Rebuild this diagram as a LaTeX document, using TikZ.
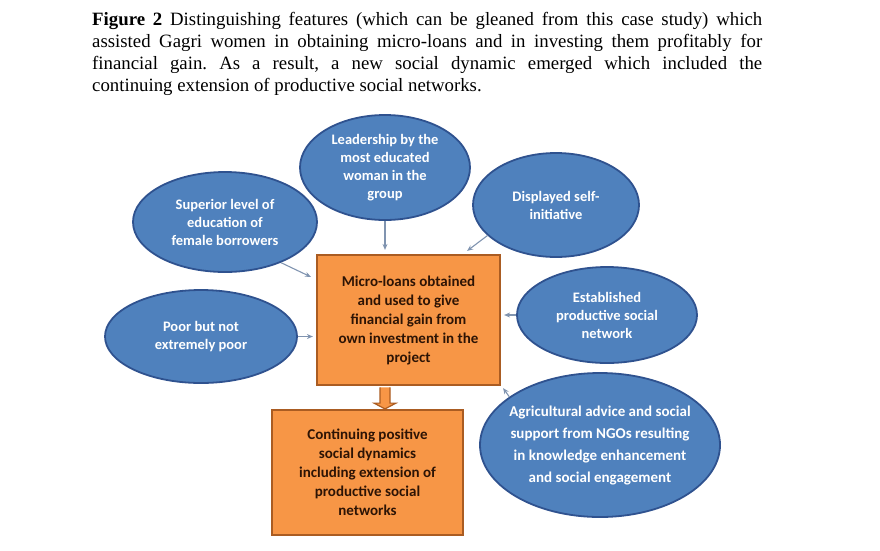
\documentclass[tikz,border=0pt]{standalone}
\usepackage{fontspec}
\setmainfont{Liberation Serif}
\newfontfamily\calibri{Carlito}
\usetikzlibrary{arrows.meta,calc,shapes.geometric}
\definecolor{bubfill}{RGB}{79,129,189}
\definecolor{bubline}{RGB}{47,82,143}
\definecolor{boxfill}{RGB}{247,150,70}
\definecolor{boxline}{RGB}{170,92,34}
\definecolor{boxtext}{RGB}{45,20,5}
\definecolor{linkgray}{RGB}{128,148,176}

\begin{document}
\begin{tikzpicture}[x=1pt,y=-1pt,
  bubble/.style={ellipse, draw=bubline, line width=1.8pt, fill=bubfill, text=white, inner sep=0pt, align=center, font=\calibri\bfseries\fontsize{14.5}{18}\selectfont},
  outcome/.style={rectangle, draw=boxline, line width=2.2pt, fill=boxfill, text=boxtext, inner sep=0pt, align=center, font=\calibri\bfseries\fontsize{15}{19}\selectfont},
  link/.style={draw=linkgray, line width=1.1pt, -{Stealth[length=6pt,width=5pt]}}]
  \useasboundingbox (0,0) rectangle (880,550);
  \node[anchor=north west, inner sep=0pt, text width=670pt, align=justify, font=\fontsize{18.8}{22}\selectfont\frenchspacing] (caption) at (92,12) {\textbf{Figure 2} Distinguishing features (which can be gleaned from this case study) which\linebreak assisted Gagri women in obtaining micro-loans and in investing them profitably for\linebreak financial gain. As a result, a new social dynamic emerged which included the\linebreak continuing extension of productive social networks.};
  \node[outcome, minimum width=183pt, minimum height=130pt] (main) at (408.5,320) {Micro-loans obtained\\and used to give\\financial gain from\\own investment in the\\project};
  \node[outcome, minimum width=191pt, minimum height=125pt] (res) at (367.5,472.5) {Continuing positive\\social dynamics\\including extension of\\productive social\\networks};
  \node[bubble, minimum width=170pt, minimum height=105pt] (lead) at (385,167.5) {Leadership by the\\most educated\\woman in the\\group};
  \node[bubble, minimum width=184pt, minimum height=100pt] (sup) at (225,222) {Superior level of\\education of\\female borrowers};
  \node[bubble, minimum width=166pt, minimum height=104pt] (disp) at (556,205) {Displayed self-\\initiative};
  \node[bubble, minimum width=192pt, minimum height=93pt] (poor) at (201,336.5) {Poor but not\\extremely poor};
  \node[bubble, minimum width=180pt, minimum height=96pt] (est) at (607,315) {Established\\productive social\\network};
  \node[bubble, inner xsep=-14pt, minimum width=240pt, minimum height=144pt, font=\calibri\bfseries\fontsize{15}{22}\selectfont] (agri) at (600,445) {Agricultural advice and social\\support from NGOs resulting\\in knowledge enhancement\\and social engagement};
  \draw[link, shorten >=4pt] (lead.south) -- (lead.south |- main.north);
  \draw[link] (disp.204) -- ([xshift=-34pt,yshift=3pt]main.north east);
  \draw[link] (sup.-36) -- ([xshift=-5pt,yshift=-23pt]main.north west);
  \draw[link, shorten >=3pt] (poor.east) -- (poor.east -| main.west);
  \draw[link, shorten >=3pt] (est.west) -- (est.west -| main.east);
  \draw[link] (agri.152) -- ([xshift=2pt,yshift=-2pt]main.south east);
  \coordinate (stem) at (lead.south |- main.south);
  \coordinate (tip) at (lead.south |- res.north);
  \filldraw[fill=boxfill, draw=boxline, line width=1.2pt, line join=miter] ($(stem)+(-5,1.2)$) -- ($(stem)+(-5,17)$) -- ($(stem)+(-11,17)$) -- (tip) -- ($(stem)+(11,17)$) -- ($(stem)+(5,17)$) -- ($(stem)+(5,1.2)$);
\end{tikzpicture}
\end{document}
